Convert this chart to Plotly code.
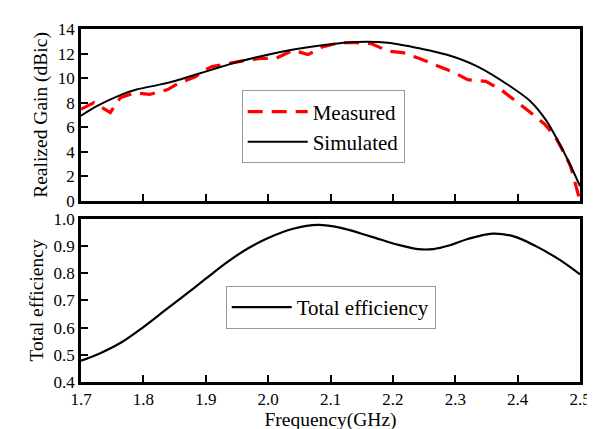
import plotly.graph_objects as go
from plotly.subplots import make_subplots

# Realized gain data
freq_sim = [1.700, 1.726, 1.763, 1.789, 1.826, 1.852, 1.883, 1.917, 1.943, 1.996, 2.048, 2.093,
            2.140, 2.192, 2.245, 2.287, 2.336, 2.388, 2.420, 2.446, 2.467, 2.488, 2.500]
gain_sim = [6.94, 7.74, 8.62, 9.07, 9.47, 9.79, 10.27, 10.8, 11.2, 11.87, 12.4, 12.72,
            12.94, 12.88, 12.4, 11.9, 10.94, 9.34, 8.14, 6.54, 4.67, 2.54, 1.2]

freq_meas = [1.700, 1.721, 1.747, 1.763, 1.786, 1.810, 1.839, 1.857, 1.883, 1.899, 1.910, 1.935,
             1.959, 1.988, 2.012, 2.040, 2.064, 2.087, 2.114, 2.140, 2.166, 2.192, 2.216, 2.245,
             2.268, 2.297, 2.320, 2.349, 2.373, 2.396, 2.417, 2.443, 2.459, 2.475, 2.485, 2.500]
gain_meas = [7.47, 8.0, 7.2, 8.4, 8.8, 8.67, 9.07, 9.6, 10.1, 10.67, 10.94, 11.2,
             11.4, 11.6, 11.6, 12.27, 11.92, 12.54, 12.88, 12.88, 12.8, 12.2, 12.08, 11.55,
             11.07, 10.48, 9.87, 9.74, 9.07, 8.19, 7.34, 6.27, 5.34, 3.87, 2.8, 0.0]

# Total efficiency data
freq_eff = [1.700, 1.730, 1.765, 1.800, 1.835, 1.868, 1.900, 1.935, 1.968, 2.000, 2.040, 2.080,
            2.115, 2.165, 2.205, 2.240, 2.265, 2.290, 2.320, 2.360, 2.395, 2.430, 2.467, 2.500]
eff = [0.478, 0.505, 0.546, 0.602, 0.664, 0.722, 0.780, 0.842, 0.892, 0.930, 0.964, 0.978,
       0.968, 0.935, 0.907, 0.889, 0.889, 0.902, 0.926, 0.946, 0.935, 0.899, 0.850, 0.796]

x_ticks = [1.7, 1.8, 1.9, 2.0, 2.1, 2.2, 2.3, 2.4, 2.5]
x_tick_labels = ["1.7", "1.8", "1.9", "2.0", "2.1", "2.2", "2.3", "2.4", "2.5"]
gain_ticks = [0, 2, 4, 6, 8, 10, 12, 14]
eff_ticks = [0.4, 0.5, 0.6, 0.7, 0.8, 0.9, 1.0]
eff_tick_labels = ["0.4", "0.5", "0.6", "0.7", "0.8", "0.9", "1.0"]

FONT = "Liberation Serif, Times New Roman, serif"

fig = make_subplots(rows=2, cols=1, shared_xaxes=False, vertical_spacing=0.05)

fig.add_trace(go.Scatter(x=freq_meas, y=gain_meas, mode="lines", name="Measured",
                         line=dict(color="#ff0000", width=3.2, dash="15px,9px"),
                         legend="legend"), row=1, col=1)
fig.add_trace(go.Scatter(x=freq_sim, y=gain_sim, mode="lines", name="Simulated",
                         line=dict(color="black", width=2, shape="spline", smoothing=0.8),
                         legend="legend"), row=1, col=1)
fig.add_trace(go.Scatter(x=freq_eff, y=eff, mode="lines", name="Total efficiency",
                         line=dict(color="black", width=2.2, shape="spline", smoothing=1.0),
                         legend="legend2"), row=2, col=1)

axis_common = dict(showline=True, linecolor="black", linewidth=2.6, mirror=True,
                   ticks="inside", ticklen=7, tickwidth=2.2, tickcolor="black",
                   showgrid=False, zeroline=False,
                   tickfont=dict(family=FONT, size=17, color="black"))

fig.update_xaxes(range=[1.7, 2.5], tickvals=x_ticks, ticktext=x_tick_labels, **axis_common)
fig.update_xaxes(showticklabels=False, row=1, col=1)
fig.update_xaxes(title=dict(text="Frequency(GHz)", font=dict(family=FONT, size=19.5, color="black"), standoff=2),
                 row=2, col=1)
fig.update_yaxes(range=[0, 14], tickvals=gain_ticks, row=1, col=1, **axis_common,
                 title=dict(text="Realized Gain (dBic)", font=dict(family=FONT, size=19.5, color="black"), standoff=5))
fig.update_yaxes(range=[0.4, 1.0], tickvals=eff_ticks, ticktext=eff_tick_labels, row=2, col=1, **axis_common,
                 title=dict(text="Total efficiency", font=dict(family=FONT, size=19.5, color="black"), standoff=5))

fig.update_layout(
    width=595, height=429,
    margin=dict(l=73, r=12, t=16, b=52),
    paper_bgcolor="white", plot_bgcolor="white",
    xaxis=dict(domain=[0, 1]), xaxis2=dict(domain=[0, 1]),
    yaxis=dict(domain=[0.513, 1.0]),
    yaxis2=dict(domain=[0.0, 0.462]),
    legend=dict(x=0.322, y=0.826, xanchor="left", yanchor="top",
                bordercolor="#999999", borderwidth=1, bgcolor="white",
                font=dict(family=FONT, size=21, color="black"),
                itemwidth=60, tracegroupgap=0),
    legend2=dict(x=0.29, y=0.272, xanchor="left", yanchor="top",
                 bordercolor="#999999", borderwidth=1, bgcolor="white",
                 font=dict(family=FONT, size=21, color="black"),
                 itemwidth=60),
    showlegend=True,
)

fig.write_html("out.html")
